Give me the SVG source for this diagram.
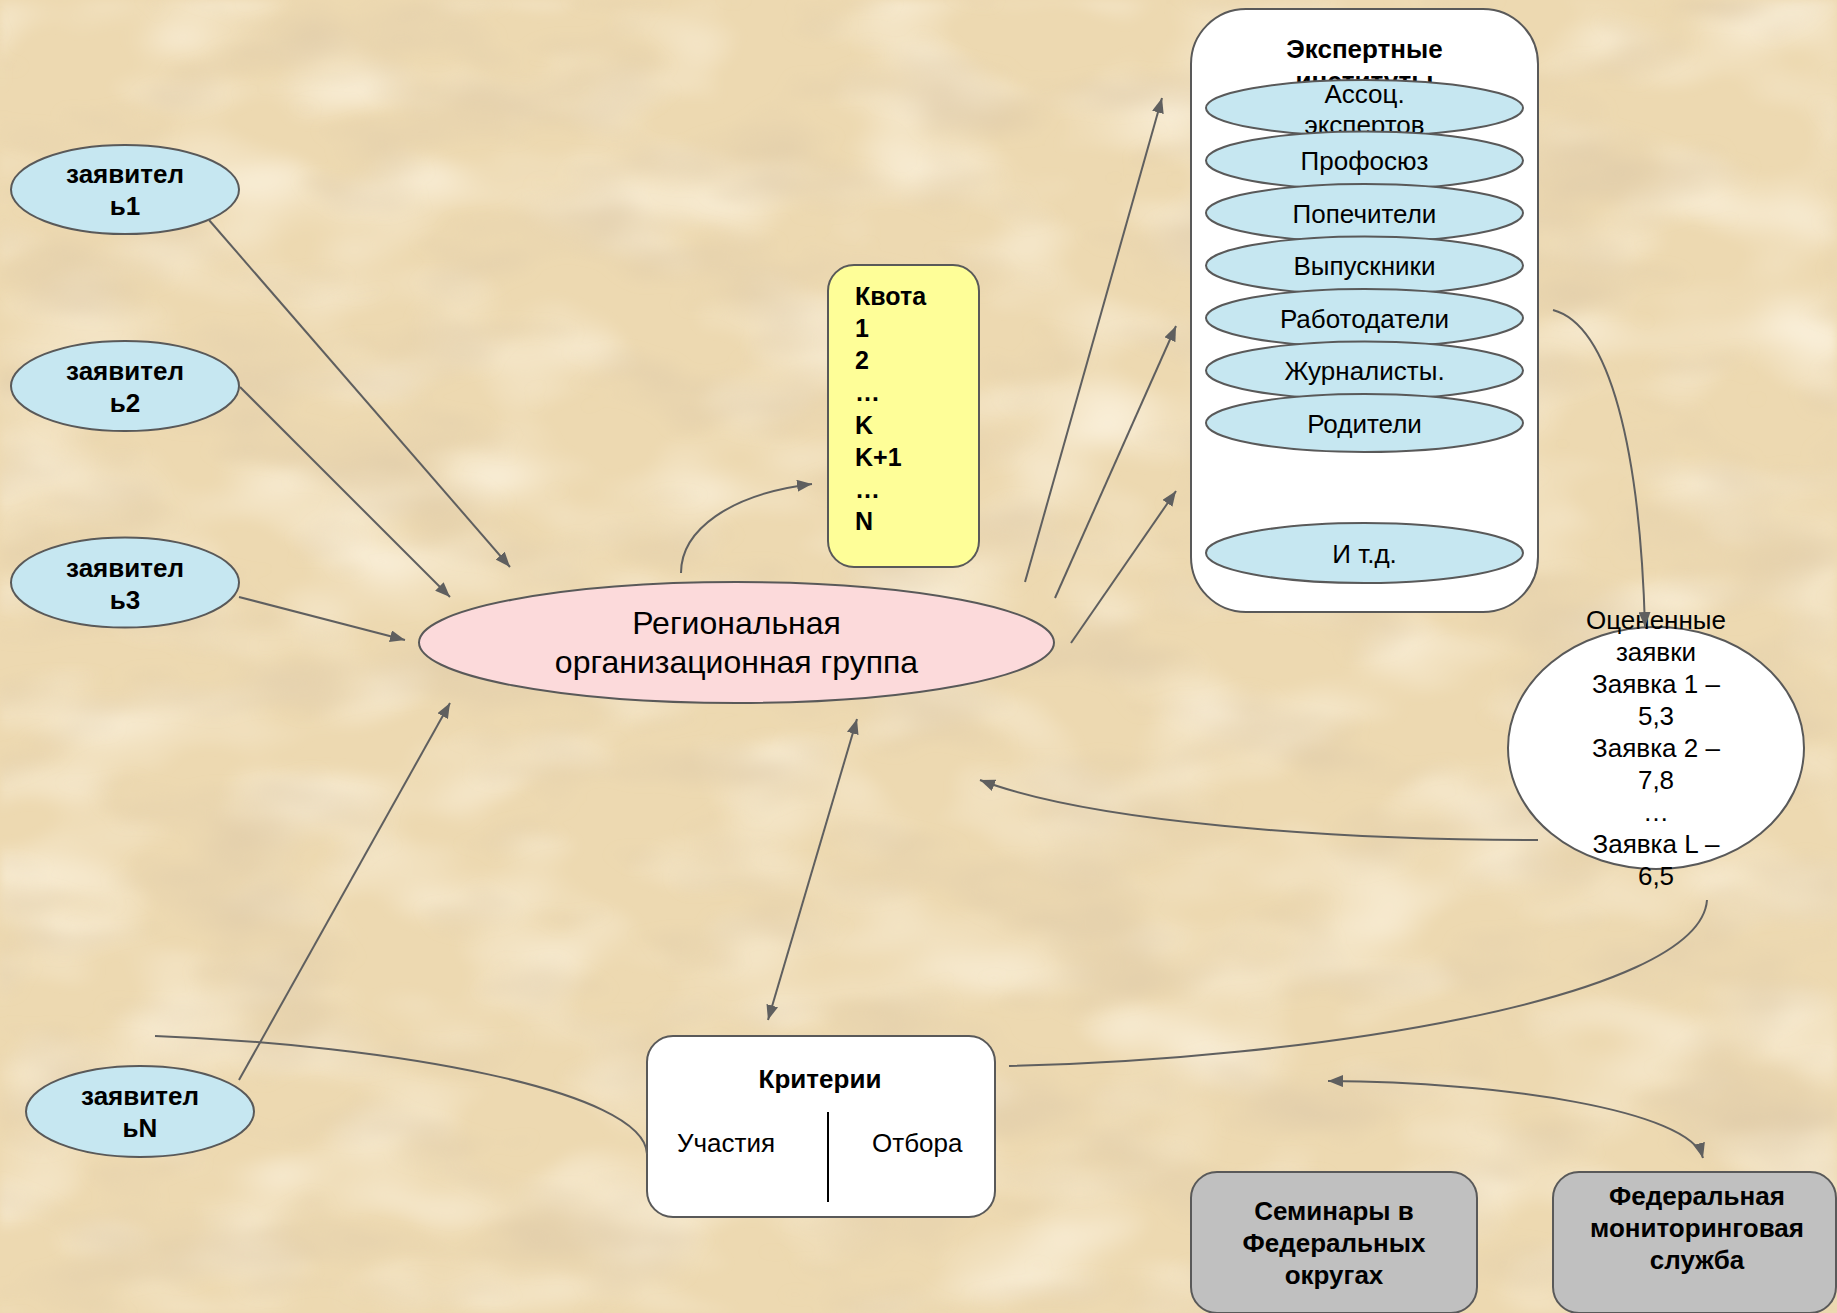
<svg xmlns="http://www.w3.org/2000/svg" width="1837" height="1313" viewBox="0 0 1837 1313">
<style>
  text { font-family: "Liberation Sans", Arial, sans-serif; fill: #000; }
  .b { font-weight: bold; }
  .c { text-anchor: middle; }
  .s26 { font-size: 26px; }
  .s25 { font-size: 25px; }
  .s32 { font-size: 32px; }
  .app { fill: #C6E7F1; stroke: #595959; stroke-width: 2; }
  .item { fill: #C6E7F1; stroke: #595959; stroke-width: 2; }
  .white { fill: #FFFFFF; stroke: #595959; stroke-width: 2; }
  .gray { fill: #C0C0C0; stroke: #595959; stroke-width: 2; }
  .conn { fill: none; stroke: #5f5f5f; stroke-width: 2; }
  .arr { marker-end: url(#ah); }
  .dbl { marker-end: url(#ah); marker-start: url(#ahs); }
</style>
<defs>
  <marker id="ah" markerUnits="userSpaceOnUse" markerWidth="16" markerHeight="12" refX="15" refY="6" orient="auto">
    <path d="M0,0 L15,6 L0,12 z" fill="#5f5f5f"/>
  </marker>
  <marker id="ahs" markerUnits="userSpaceOnUse" markerWidth="16" markerHeight="12" refX="15" refY="6" orient="auto-start-reverse">
    <path d="M0,0 L15,6 L0,12 z" fill="#5f5f5f"/>
  </marker>
  <filter id="dark" x="0" y="0" width="100%" height="100%">
    <feTurbulence type="fractalNoise" baseFrequency="0.006 0.014" numOctaves="3" seed="4"/>
    <feColorMatrix type="matrix" values="0 0 0 0 0.74  0 0 0 0 0.60  0 0 0 0 0.40  0 0 0 1.8 -0.85"/>
    <feGaussianBlur stdDeviation="4"/>
  </filter>
  <filter id="light" x="0" y="0" width="100%" height="100%">
    <feTurbulence type="fractalNoise" baseFrequency="0.007 0.013" numOctaves="2" seed="11"/>
    <feColorMatrix type="matrix" values="0 0 0 0 0.98  0 0 0 0 0.91  0 0 0 0 0.77  0 0 0 1.8 -0.8"/>
    <feGaussianBlur stdDeviation="4"/>
  </filter>
</defs>

<g id="background">
  <rect x="0" y="0" width="1837" height="1313" fill="#EDD9B1"/>
  <rect x="0" y="0" width="1837" height="1313" filter="url(#light)"/>
  <rect x="0" y="0" width="1837" height="1313" filter="url(#dark)"/>
</g>

<g id="applicant1">
  <ellipse class="app" cx="125" cy="189.5" rx="114" ry="44.5"/>
  <text class="b c s26" x="125" y="183">заявител</text>
  <text class="b c s26" x="125" y="215">ь1</text>
</g>
<g id="applicant2">
  <ellipse class="app" cx="125" cy="386" rx="114" ry="45"/>
  <text class="b c s26" x="125" y="380">заявител</text>
  <text class="b c s26" x="125" y="412">ь2</text>
</g>
<g id="applicant3">
  <ellipse class="app" cx="125" cy="582.5" rx="114" ry="45"/>
  <text class="b c s26" x="125" y="577">заявител</text>
  <text class="b c s26" x="125" y="609">ь3</text>
</g>
<g id="applicantN">
  <ellipse class="app" cx="140" cy="1111.5" rx="114" ry="45.5"/>
  <text class="b c s26" x="140" y="1105">заявител</text>
  <text class="b c s26" x="140" y="1137">ьN</text>
</g>

<g id="regional-group">
  <ellipse cx="736.5" cy="642.5" rx="317.5" ry="60.5" fill="#FCDADB" stroke="#595959" stroke-width="2"/>
  <text class="c s32" x="736.5" y="634">Региональная</text>
  <text class="c s32" x="736.5" y="673">организационная группа</text>
</g>

<g id="quota">
  <rect x="828" y="265" width="151" height="302" rx="26" ry="26" fill="#FEFE98" stroke="#595959" stroke-width="2"/>
  <text class="b s25" x="855" y="305">Квота</text>
  <text class="b s25" x="855" y="337">1</text>
  <text class="b s25" x="855" y="369">2</text>
  <text class="b s25" x="855" y="401">…</text>
  <text class="b s25" x="855" y="434">K</text>
  <text class="b s25" x="855" y="466">K+1</text>
  <text class="b s25" x="855" y="498">…</text>
  <text class="b s25" x="855" y="530">N</text>
</g>

<g id="expert-institutions">
  <rect class="white" x="1191" y="9" width="347" height="603" rx="55" ry="55"/>
  <text class="b c s26" x="1364.5" y="58">Экспертные</text>
  <text class="b c s26" x="1364.5" y="90">институты</text>
  <g id="item-assoc">
    <ellipse class="item" cx="1364.5" cy="108" rx="158.5" ry="28"/>
    <text class="c s26" x="1364.5" y="103">Ассоц.</text>
    <text class="c s26" x="1364.5" y="134">экспертов</text>
  </g>
  <g id="item-profsoyuz">
    <ellipse class="item" cx="1364.5" cy="160.5" rx="158.5" ry="29"/>
    <text class="c s26" x="1364.5" y="170">Профосюз</text>
  </g>
  <g id="item-popechiteli">
    <ellipse class="item" cx="1364.5" cy="213" rx="158.5" ry="29"/>
    <text class="c s26" x="1364.5" y="222.5">Попечители</text>
  </g>
  <g id="item-vypuskniki">
    <ellipse class="item" cx="1364.5" cy="265.5" rx="158.5" ry="29"/>
    <text class="c s26" x="1364.5" y="275">Выпускники</text>
  </g>
  <g id="item-rabotodateli">
    <ellipse class="item" cx="1364.5" cy="318" rx="158.5" ry="29"/>
    <text class="c s26" x="1364.5" y="327.5">Работодатели</text>
  </g>
  <g id="item-zhurnalisty">
    <ellipse class="item" cx="1364.5" cy="370.5" rx="158.5" ry="29"/>
    <text class="c s26" x="1364.5" y="380">Журналисты.</text>
  </g>
  <g id="item-roditeli">
    <ellipse class="item" cx="1364.5" cy="423" rx="158.5" ry="29"/>
    <text class="c s26" x="1364.5" y="432.5">Родители</text>
  </g>
  <g id="item-etc">
    <ellipse class="item" cx="1364.5" cy="553" rx="158.5" ry="30"/>
    <text class="c s26" x="1364.5" y="562.5">И т.д.</text>
  </g>
</g>

<g id="evaluated">
  <ellipse class="white" cx="1656" cy="748" rx="148" ry="121"/>
  <text class="c s26" x="1656" y="629">Оцененные</text>
  <text class="c s26" x="1656" y="661">заявки</text>
  <text class="c s26" x="1656" y="693">Заявка 1 –</text>
  <text class="c s26" x="1656" y="725">5,3</text>
  <text class="c s26" x="1656" y="757">Заявка 2 –</text>
  <text class="c s26" x="1656" y="789">7,8</text>
  <text class="c s26" x="1656" y="821">…</text>
  <text class="c s26" x="1656" y="853">Заявка L –</text>
  <text class="c s26" x="1656" y="885">6,5</text>
</g>

<g id="criteria">
  <rect class="white" x="647" y="1036" width="348" height="181" rx="26" ry="26"/>
  <text class="b c s26" x="820" y="1088">Критерии</text>
  <text class="s26" x="677" y="1152">Участия</text>
  <text class="s26" x="872" y="1152">Отбора</text>
  <line x1="828" y1="1112" x2="828" y2="1202" stroke="#000" stroke-width="2"/>
</g>

<g id="seminars">
  <rect class="gray" x="1191" y="1172" width="286" height="141" rx="26" ry="26"/>
  <text class="b c s26" x="1334" y="1220">Семинары в</text>
  <text class="b c s26" x="1334" y="1252">Федеральных</text>
  <text class="b c s26" x="1334" y="1284">округах</text>
</g>

<g id="federal-monitoring">
  <rect class="gray" x="1553" y="1172" width="283" height="141" rx="26" ry="26"/>
  <text class="b c s26" x="1697" y="1205">Федеральная</text>
  <text class="b c s26" x="1697" y="1237">мониторинговая</text>
  <text class="b c s26" x="1697" y="1269">служба</text>
</g>

<g id="connectors">
  <path class="conn arr" d="M209,220 L510,567"/>
  <path class="conn arr" d="M240,387 L450,597"/>
  <path class="conn arr" d="M239,597 L405,640"/>
  <path class="conn arr" d="M239,1080 L450,703"/>
  <path class="conn arr" d="M681,573 C681,530 730,494 812,484"/>
  <path class="conn arr" d="M1025,582 L1162,98"/>
  <path class="conn arr" d="M1055,598 L1176,326"/>
  <path class="conn arr" d="M1071,643 L1176,491"/>
  <path class="conn arr" d="M1553,310 C1610,325 1640,450 1645,627"/>
  <path class="conn arr" d="M1538,840 C1330,840 1090,822 980,780"/>
  <path class="conn" d="M1707,900 C1700,1000 1300,1060 1009,1066"/>
  <path class="conn" d="M155,1036 C390,1045 645,1090 647,1154"/>
  <path class="conn dbl" d="M857,719 L768,1020"/>
  <path class="conn dbl" d="M1328,1081 C1500,1082 1690,1110 1703,1158"/>
</g>
</svg>
